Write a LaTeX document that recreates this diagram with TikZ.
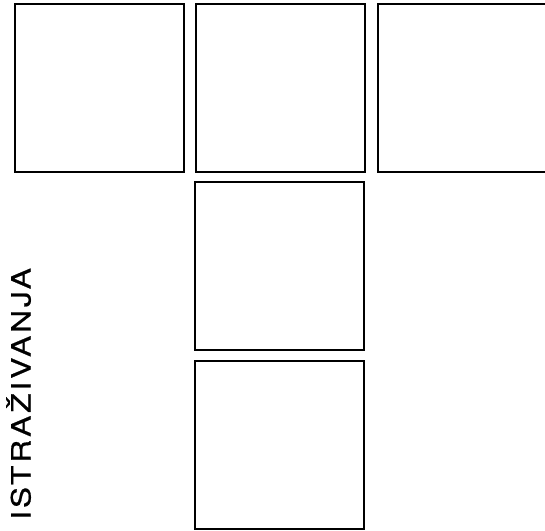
\documentclass[tikz,border=0pt]{standalone}
\usepackage{fontspec}
\setmainfont{TeX Gyre Heros}
\newfontfamily\lblfont[LetterSpace=9,FakeBold=0.6]{TeX Gyre Heros}
\begin{document}
\begin{tikzpicture}[x=1pt,y=-1pt,
  panel/.style={draw=black,line width=1.3pt,minimum width=169pt,minimum height=168pt,inner sep=0pt,outer sep=0pt,anchor=north west}]
\useasboundingbox (0,0) rectangle (545,530);
\clip (0,0) rectangle (545,530);
\node[panel] (b1) at (15,4) {};
\node[panel] (b2) at (196,4) {};
\node[panel] (b3) at (378,4) {};
\node[panel] (b4) at (195,182) {};
\node[panel] (b5) at (195,361) {};
\node[rotate=90,anchor=base west,inner sep=0pt] (lbl) at (30.5,520) {\scalebox{1.2}[1]{\lblfont\fontsize{26.5}{30}\selectfont ISTRAŽIVANJA}};
\end{tikzpicture}
\end{document}
